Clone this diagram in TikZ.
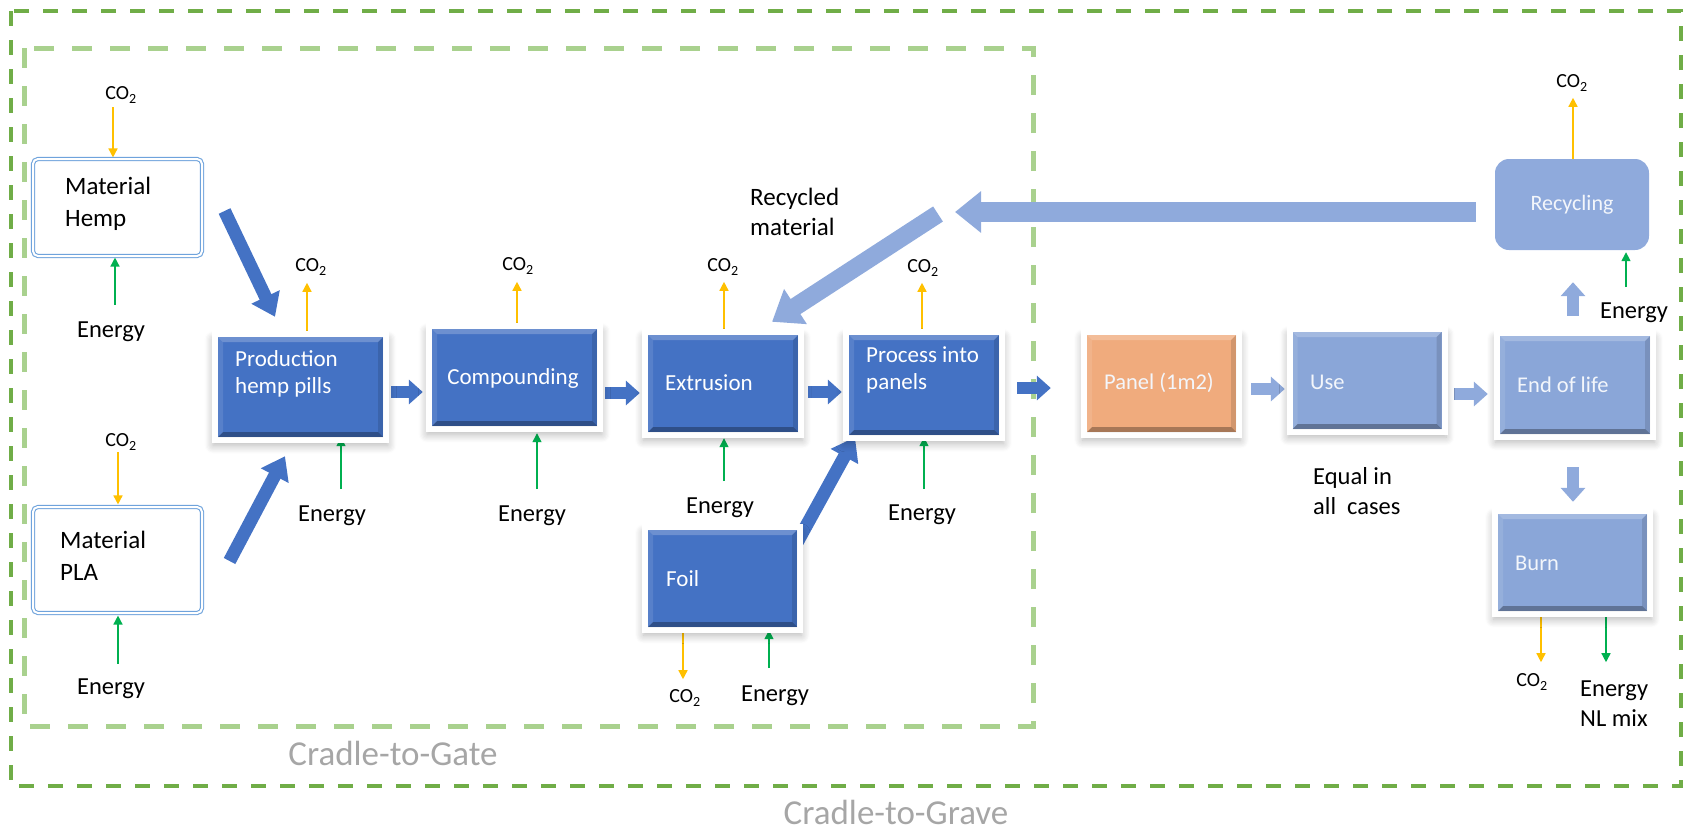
\documentclass[tikz,border=0pt]{standalone}
\usepackage{fontspec}
\setmainfont{Carlito}
\usetikzlibrary{arrows.meta,shadows.blur}
\definecolor{dk}{HTML}{4472C4}
\definecolor{lt}{HTML}{8AA6D8}
\definecolor{ltarr}{HTML}{8FAADC}
\definecolor{org}{HTML}{F0AB7D}
\definecolor{coy}{HTML}{FFC000}
\definecolor{eng}{HTML}{00B050}
\definecolor{gOut}{HTML}{70AD47}
\definecolor{gIn}{HTML}{A9D18E}
\definecolor{matb}{HTML}{6FA3DC}
\definecolor{gtxt}{HTML}{A6A6A6}
\pgfdeclarelayer{background}
\pgfsetlayers{background,main}
\begin{document}
\begin{tikzpicture}[x=1pt,y=-1pt,
  lbl/.style={font=\fontsize{24.5}{30}\selectfont, inner sep=0pt, align=left},
  matl/.style={font=\fontsize{25}{32}\selectfont, inner sep=0pt, align=left},
  co/.style={font=\fontsize{20}{24}\selectfont, inner sep=0pt},
  wt/.style={font=\fontsize{23}{27}\selectfont, text=white, inner sep=0pt, align=left},
  wtl/.style={font=\fontsize{22.5}{27}\selectfont, text=white!90!lt, inner sep=0pt, align=left},
  cradle/.style={font=\fontsize{35}{40}\selectfont, text=gtxt, inner sep=0pt},
  bevel/.style={path picture={
     \path (path picture bounding box.south west) coordinate (bvSW)
           (path picture bounding box.north east) coordinate (bvNE)
           (path picture bounding box.south east) coordinate (bvSE)
           (path picture bounding box.north west) coordinate (bvNW);
     \fill[black,opacity=.30] (bvSW) -- (bvSE) -- ([shift={(-5pt,5pt)}]bvSE) -- ([shift={(5pt,5pt)}]bvSW) -- cycle;
     \fill[white,opacity=.22] (bvNW) -- (bvNE) -- ([shift={(-5pt,-5pt)}]bvNE) -- ([shift={(5pt,-5pt)}]bvNW) -- cycle;
     \fill[white,opacity=.10] (bvNW) -- ([shift={(5pt,-5pt)}]bvNW) -- ([shift={(5pt,5pt)}]bvSW) -- (bvSW) -- cycle;
     \fill[black,opacity=.12] (bvNE) -- ([shift={(-5pt,-5pt)}]bvNE) -- ([shift={(-5pt,5pt)}]bvSE) -- (bvSE) -- cycle;
  }},
  procbox/.style={rectangle, inner sep=0pt, fill=#1, bevel,
     blur shadow={shadow xshift=0pt, shadow yshift=-5pt, shadow scale=1.06, shadow blur radius=8pt, shadow blur steps=8, shadow opacity=30},
     preaction={draw=white, line width=12pt}},
  matbox/.style={rectangle, rounded corners=5pt, draw=matb, double=white, double distance=2pt, line width=1.1pt, inner sep=0pt},
  coarr/.style={draw=coy, line width=1.5pt, -{Triangle[width=9pt,length=9pt]}},
  enarr/.style={draw=eng, line width=1.5pt, -{Triangle[width=9pt,length=9pt]}},
  bigdk/.style={draw=dk, line width=13pt, -{Triangle[width=30pt,length=22pt]}},
  smdk/.style={draw=dk, line width=12pt, -{Triangle[width=24pt,length=14pt]}},
  smlt/.style={draw=ltarr, line width=12pt, -{Triangle[width=24pt,length=14pt]}},
  biglt/.style={draw=ltarr, line width=20pt, -{Triangle[width=40pt,length=26pt]}},
  diaglt/.style={draw=ltarr, line width=18pt, -{Triangle[width=40pt,length=28pt]}},
]
\useasboundingbox (0,0) rectangle (1686,830);

% ---------- boxes ----------
\node[matbox, minimum width=169pt, minimum height=97pt] (hemp) at (117.5,207.5) {};
\node[matbox, minimum width=169pt, minimum height=106pt] (pla) at (117.5,560) {};
\node[procbox=dk, minimum width=165pt, minimum height=100pt] (prod) at (300.5,387) {};
\node[procbox=dk, minimum width=165pt, minimum height=97pt] (comp) at (514.5,377.5) {};
\node[procbox=dk, minimum width=150pt, minimum height=97pt] (extr) at (723,383.5) {};
\node[procbox=dk, minimum width=150pt, minimum height=100pt] (proc) at (924,385) {};
\node[procbox=dk, minimum width=149pt, minimum height=97pt] (foil) at (722.5,578.5) {};
\node[procbox=org, minimum width=149pt, minimum height=97pt] (panel) at (1161.5,383.5) {};
\node[procbox=lt, minimum width=149pt, minimum height=97pt] (use) at (1367,380.5) {};
\node[procbox=lt, minimum width=150pt, minimum height=98pt] (eol) at (1575,385) {};
\node[procbox=lt, minimum width=149pt, minimum height=97pt] (burn) at (1572.5,562.5) {};
\node[rectangle, rounded corners=14pt, fill=ltarr, inner sep=0pt, minimum width=154pt, minimum height=91pt] (recy) at (1572,204.5) {};

% ---------- box texts ----------
\node[matl, anchor=west] at (65,204) {Material\\Hemp};
\node[matl, anchor=west] at (60,555.5) {Material\\PLA};
\node[wt, anchor=west] at (235,373.5) {Production\\hemp pills};
\node[wt] at (513,378) {Compounding};
\node[wt, anchor=west] at (665,383) {Extrusion};
\node[wt, anchor=west] at (866,370) {Process into\\panels};
\node[wt, anchor=west] at (666,579) {Foil};
\node[wtl] at (1159,383) {Panel (1m2)};
\node[wtl, anchor=west] at (1310,382) {Use};
\node[wtl, anchor=west] at (1517,385) {End of life};
\node[wtl, font=\fontsize{22}{26}\selectfont] at (1572,205) {Recycling};
\node[wtl, anchor=west] at (1515,563) {Burn};

% ---------- CO2 labels ----------
\node[co] at (121,95) {CO\textsubscript{2}};
\node[co] at (121,442) {CO\textsubscript{2}};
\node[co] at (311,267) {CO\textsubscript{2}};
\node[co] at (518,266) {CO\textsubscript{2}};
\node[co] at (723,267) {CO\textsubscript{2}};
\node[co] at (923,268) {CO\textsubscript{2}};
\node[co] at (685,698) {CO\textsubscript{2}};
\node[co] at (1572,83) {CO\textsubscript{2}};
\node[co] at (1532,682) {CO\textsubscript{2}};

% ---------- Energy labels ----------
\node[lbl] at (111,332) {Energy};
\node[lbl] at (111,689) {Energy};
\node[lbl] at (332,516) {Energy};
\node[lbl] at (532,516) {Energy};
\node[lbl] at (720,508) {Energy};
\node[lbl] at (922,515) {Energy};
\node[lbl] at (775,696) {Energy};
\node[lbl] at (1634,313) {Energy};
\node[lbl, anchor=west] at (1580,704) {Energy\\NL mix};
\node[lbl, anchor=west] at (1313,491.5) {Equal in\\all\ \ cases};
\node[lbl, font=\fontsize{25}{30}\selectfont, anchor=west] at (750,212) {Recycled\\material};

% ---------- cradle labels ----------
\node[cradle] at (393,753) {Cradle-to-Gate};
\node[cradle] at (896,812) {Cradle-to-Grave};

\coordinate (rtip) at (955,212);
\coordinate (dtail) at (938,214);

\begin{pgfonlayer}{background}
% boundaries
\draw[gOut, line width=3.5pt, dash pattern=on 15pt off 14pt] (11,11) rectangle (1681,786);
\draw[gIn, line width=5pt, dash pattern=on 20pt off 18pt] (24,48) rectangle (1033,726);

% block arrows
\draw[bigdk] ([shift={(22,3.5)}]hemp.east) -- ([shift={(-25.5,-20)}]prod.north);
\draw[bigdk] ([shift={(27,1)}]pla.east) -- ([shift={(-15.5,19)}]prod.south);
\draw[bigdk] ([shift={(-7,-23.5)}]foil.east) -- ([shift={(-69,2)}]proc.south);
\draw[smdk] ([shift={(8,5)}]prod.east) -- ([shift={(-9,14.5)}]comp.west);
\draw[smdk] ([shift={(8,15.5)}]comp.east) -- ([shift={(-8,9.5)}]extr.west);
\draw[smdk] ([shift={(10,8.5)}]extr.east) -- ([shift={(-7,7)}]proc.west);
\draw[smdk] ([shift={(18,3)}]proc.east) -- ([shift={(-36,4.5)}]panel.west);
\draw[smlt] ([shift={(15,5.5)}]panel.east) -- ([shift={(-7.5,8.5)}]use.west);
\draw[smlt] ([shift={(12.5,13.5)}]use.east) -- ([shift={(-12,9)}]eol.west);
\draw[smlt] ([shift={(-2,33)}]eol.south) -- ([shift={(0.5,-12)}]burn.north);
\draw[smlt] ([shift={(-2,-20)}]eol.north) -- ([shift={(1,32)}]recy.south);
\draw[biglt] ([shift={(-19,7.5)}]recy.west) -- (rtip);
\draw[diaglt] (dtail) -- ([shift={(49,-13)}]extr.north);

% CO2 arrows
\draw[coarr] ([shift={(-4.5,-51)}]hemp.north) -- ([shift={(-4.5,-1)}]hemp.north);
\draw[coarr] ([shift={(0.5,-54)}]pla.north) -- ([shift={(0.5,-2)}]pla.north);
\draw[coarr] ([shift={(6.5,-6)}]prod.north) -- ([shift={(6.5,-54)}]prod.north);
\draw[coarr] ([shift={(2.5,-6)}]comp.north) -- ([shift={(2.5,-47)}]comp.north);
\draw[coarr] ([shift={(1,-6)}]extr.north) -- ([shift={(1,-53)}]extr.north);
\draw[coarr] ([shift={(-2,-6)}]proc.north) -- ([shift={(-2,-52)}]proc.north);
\draw[coarr] ([shift={(-39.5,6)}]foil.south) -- ([shift={(-39.5,52)}]foil.south);
\draw[coarr] ([shift={(1,0)}]recy.north) -- ([shift={(1,-61)}]recy.north);
\draw[coarr] ([shift={(-31.5,6)}]burn.south) -- ([shift={(-31.5,51)}]burn.south);

% Energy arrows
\draw[enarr] ([shift={(-2.5,48)}]hemp.south) -- ([shift={(-2.5,1)}]hemp.south);
\draw[enarr] ([shift={(0.5,50)}]pla.south) -- ([shift={(0.5,2)}]pla.south);
\draw[enarr] ([shift={(40.5,52)}]prod.south) -- ([shift={(40.5,0)}]prod.south);
\draw[enarr] ([shift={(22.5,63)}]comp.south) -- ([shift={(22.5,7)}]comp.south);
\draw[enarr] ([shift={(1,49)}]extr.south) -- ([shift={(1,6)}]extr.south);
\draw[enarr] ([shift={(0,54)}]proc.south) -- ([shift={(0,2)}]proc.south);
\draw[enarr] ([shift={(46.5,41)}]foil.south) -- ([shift={(46.5,3)}]foil.south);
\draw[enarr] ([shift={(54,37)}]recy.south) -- ([shift={(54,2)}]recy.south);
\draw[enarr] ([shift={(33.5,6)}]burn.south) -- ([shift={(33.5,51)}]burn.south);
\end{pgfonlayer}
\end{tikzpicture}
\end{document}
